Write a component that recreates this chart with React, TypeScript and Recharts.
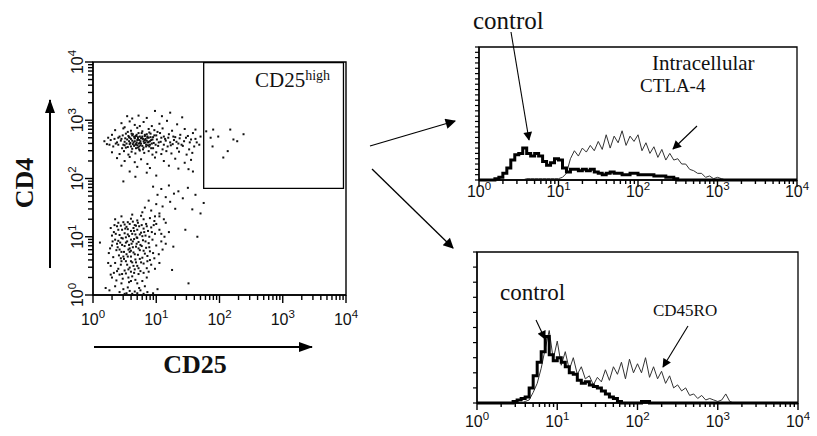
import React from "react";
import {
  Line,
  LineChart,
  ReferenceArea,
  Scatter,
  ScatterChart,
  XAxis,
  YAxis,
} from "recharts";

// log10 positions of decades and of the 2..9 minor ticks inside a decade
const decades = [0, 1, 2, 3, 4];
const minorSteps = [0.301, 0.477, 0.602, 0.699, 0.778, 0.845, 0.903, 0.954];
const logTicks = [
  ...decades,
  ...decades.slice(0, 4).flatMap((d) => minorSteps.map((m) => d + m)),
].sort((a, b) => a - b);

// dot plot: [log10 CD25, log10 CD4]
const cd4HighCells: [number, number][] = [
  [0.54, 3.07], [0.72, 3.08], [0.98, 3.16], [1.09, 3.07], [1.22, 3.13], [1.41, 3.05], [0.62, 3.03], [0.85, 3.04],
  [0.45, 2.95], [0.58, 2.98], [0.66, 2.92], [0.8, 2.97], [0.93, 2.9], [1.05, 2.94], [1.17, 2.99], [1.33, 2.93], [0.5, 2.88], [0.74, 2.9],
  [0.35, 2.83], [0.48, 2.86], [0.6, 2.82], [0.7, 2.87], [0.78, 2.81], [0.88, 2.85], [0.97, 2.83], [1.1, 2.86], [1.25, 2.82], [1.45, 2.85],
  [1.62, 2.84], [1.79, 2.81], [1.9, 2.84], [2.17, 2.84], [0.55, 2.8], [1.02, 2.8],
  [0.3, 2.75], [0.42, 2.72], [0.52, 2.77], [0.57, 2.71], [0.63, 2.76], [0.68, 2.73], [0.72, 2.78], [0.77, 2.7], [0.82, 2.75], [0.86, 2.72],
  [0.91, 2.77], [0.95, 2.71], [1.0, 2.74], [1.06, 2.78], [1.12, 2.72], [1.2, 2.76], [1.3, 2.71], [1.38, 2.75], [1.5, 2.73], [1.58, 2.78],
  [1.7, 2.72], [1.86, 2.7], [1.98, 2.72], [2.38, 2.76], [0.66, 2.7], [0.89, 2.79],
  [0.18, 2.64], [0.28, 2.66], [0.38, 2.62], [0.45, 2.68], [0.5, 2.63], [0.54, 2.67], [0.59, 2.61], [0.62, 2.65], [0.66, 2.69], [0.69, 2.62],
  [0.73, 2.66], [0.76, 2.6], [0.8, 2.64], [0.83, 2.68], [0.87, 2.62], [0.92, 2.66], [0.96, 2.61], [1.01, 2.67], [1.07, 2.63], [1.14, 2.68],
  [1.22, 2.62], [1.28, 2.66], [1.35, 2.6], [1.44, 2.64], [1.55, 2.67], [1.64, 2.62], [2.22, 2.67], [2.28, 2.64], [0.71, 2.68], [0.85, 2.65],
  [0.22, 2.59], [0.32, 2.55], [0.4, 2.58], [0.46, 2.52], [0.5, 2.57], [0.55, 2.54], [0.58, 2.59], [0.62, 2.51], [0.65, 2.56], [0.68, 2.59],
  [0.71, 2.53], [0.75, 2.57], [0.79, 2.5], [0.84, 2.55], [0.9, 2.58], [0.95, 2.52], [1.03, 2.56], [1.1, 2.5], [1.18, 2.55], [1.26, 2.59],
  [1.33, 2.52], [1.42, 2.56], [1.52, 2.5], [1.6, 2.55], [1.89, 2.55], [0.6, 2.55], [0.73, 2.5],
  [0.3, 2.45], [0.42, 2.42], [0.49, 2.47], [0.56, 2.41], [0.61, 2.46], [0.67, 2.43], [0.74, 2.48], [0.81, 2.44], [0.88, 2.47], [0.94, 2.41],
  [1.0, 2.45], [1.08, 2.42], [1.16, 2.47], [1.24, 2.43], [1.36, 2.46], [1.48, 2.41], [1.57, 2.44], [2.13, 2.47],
  [0.38, 2.35], [0.5, 2.3], [0.58, 2.37], [0.66, 2.28], [0.76, 2.33], [0.86, 2.25], [0.98, 2.36], [1.12, 2.3], [1.2, 2.22], [1.3, 2.34],
  [1.45, 2.27], [2.06, 2.36], [0.45, 2.22], [0.7, 2.2], [1.55, 2.32],
  [0.48, 1.95], [0.67, 2.03], [0.85, 2.1], [1.51, 2.16], [1.58, 2.12], [0.58, 2.12], [1.0, 2.05], [1.35, 2.17], [0.9, 2.18],
  // dense core
  [0.47, 2.74], [0.51, 2.69], [0.53, 2.6], [0.56, 2.73], [0.6, 2.68], [0.61, 2.77], [0.64, 2.62], [0.65, 2.72], [0.67, 2.58], [0.69, 2.75],
  [0.7, 2.66], [0.72, 2.6], [0.74, 2.72], [0.75, 2.64], [0.77, 2.78], [0.78, 2.56], [0.79, 2.68], [0.81, 2.61], [0.82, 2.73], [0.84, 2.58],
  [0.86, 2.7], [0.88, 2.63], [0.89, 2.55], [0.91, 2.71], [0.93, 2.6], [0.94, 2.67], [0.97, 2.74], [0.99, 2.58], [0.48, 2.58], [0.52, 2.53],
  [0.57, 2.64], [0.63, 2.59], [0.68, 2.52], [0.71, 2.71], [0.73, 2.55], [0.76, 2.69], [0.8, 2.53], [0.83, 2.62], [0.87, 2.57], [0.9, 2.64],
  [0.58, 2.7], [0.62, 2.74], [0.66, 2.64], [0.7, 2.57], [0.74, 2.61], [0.78, 2.72], [0.82, 2.66], [0.85, 2.76], [0.88, 2.7], [0.92, 2.52],
  [1.04, 2.62], [1.08, 2.7], [1.12, 2.58], [1.15, 2.65], [1.19, 2.7], [1.23, 2.57], [1.27, 2.72], [1.32, 2.63], [1.37, 2.69], [1.4, 2.58],
  [1.47, 2.7], [1.53, 2.62], [1.62, 2.68], [1.68, 2.58], [0.44, 2.65], [0.4, 2.7], [0.36, 2.6], [0.34, 2.68], [0.26, 2.58], [0.24, 2.7],
];

const cd4LowCells: [number, number][] = [
  [0.95, 1.86], [1.08, 1.82], [1.2, 1.88], [1.35, 1.78], [1.5, 1.84], [1.02, 1.72], [1.15, 1.68], [1.28, 1.74], [1.42, 1.66], [1.62, 1.72],
  [1.75, 1.58], [0.88, 1.62], [1.0, 1.56], [1.1, 1.52], [1.22, 1.6], [1.57, 1.47], [1.7, 1.4], [0.82, 1.5], [0.92, 1.45], [1.3, 1.48],
  [0.78, 1.42], [1.05, 1.4],
  [0.35, 1.3], [0.45, 1.35], [0.55, 1.25], [0.62, 1.38], [0.7, 1.28], [0.76, 1.36], [0.84, 1.22], [0.9, 1.32], [0.97, 1.27], [1.05, 1.35],
  [1.15, 1.24], [1.46, 1.12], [0.5, 1.21], [0.66, 1.2], [0.8, 1.3], [0.4, 1.24], [0.6, 1.31],
  [0.28, 1.15], [0.33, 1.08], [0.38, 1.18], [0.42, 1.03], [0.46, 1.12], [0.5, 1.06], [0.53, 1.17], [0.57, 1.01], [0.6, 1.1], [0.64, 1.15],
  [0.67, 1.04], [0.7, 1.12], [0.73, 1.18], [0.76, 1.07], [0.8, 1.14], [0.83, 1.02], [0.87, 1.1], [0.92, 1.16], [0.98, 1.05], [1.05, 1.12],
  [1.13, 1.0], [1.65, 1.0], [0.3, 1.02], [0.55, 1.13], [0.68, 1.19], [0.78, 1.01], [0.44, 1.19], [0.62, 1.05],
  [0.11, 0.9], [0.3, 0.85], [0.35, 0.95], [0.39, 0.82], [0.43, 0.9], [0.47, 0.97], [0.5, 0.84], [0.54, 0.92], [0.58, 0.8], [0.61, 0.88],
  [0.65, 0.96], [0.68, 0.83], [0.72, 0.91], [0.75, 0.86], [0.79, 0.94], [0.84, 0.81], [0.88, 0.89], [0.94, 0.95], [1.0, 0.85], [1.08, 0.92],
  [1.27, 0.83], [0.52, 0.99], [0.63, 0.82], [0.7, 0.98], [0.4, 0.93],
  [0.25, 0.72], [0.32, 0.65], [0.37, 0.77], [0.41, 0.68], [0.45, 0.74], [0.49, 0.62], [0.53, 0.7], [0.56, 0.78], [0.6, 0.66], [0.64, 0.73],
  [0.67, 0.61], [0.71, 0.69], [0.74, 0.77], [0.78, 0.64], [0.82, 0.71], [0.86, 0.67], [0.9, 0.75], [0.97, 0.63], [1.04, 0.7], [0.58, 0.74],
  [0.44, 0.63],
  [0.28, 0.5], [0.35, 0.55], [0.4, 0.45], [0.45, 0.58], [0.5, 0.42], [0.54, 0.52], [0.58, 0.47], [0.62, 0.56], [0.66, 0.44], [0.7, 0.5],
  [0.75, 0.41], [0.8, 0.54], [0.85, 0.46], [0.92, 0.52], [1.25, 0.43], [0.38, 0.41], [0.6, 0.4],
  [0.3, 0.3], [0.37, 0.25], [0.42, 0.35], [0.47, 0.28], [0.52, 0.37], [0.57, 0.22], [0.62, 0.32], [0.67, 0.26], [0.72, 0.36], [0.78, 0.24],
  [0.85, 0.3], [1.51, 0.2], [0.33, 0.38], [0.65, 0.38],
  [0.2, 0.12], [0.26, 0.08], [0.35, 0.15], [0.42, 0.05], [0.48, 0.1], [0.53, 0.03], [0.58, 0.07], [0.62, 0.02], [0.66, 0.06], [0.7, 0.03],
  [0.75, 0.08], [0.8, 0.02], [0.86, 0.05], [0.95, 0.03], [1.02, 0.1], [0.55, 0.13], [0.5, 0.02], [0.73, 0.12],
  // dense core
  [0.36, 1.05], [0.4, 1.12], [0.45, 0.98], [0.48, 1.25], [0.51, 1.14], [0.55, 1.04], [0.58, 1.22], [0.6, 0.95], [0.63, 1.26], [0.65, 1.1],
  [0.69, 0.99], [0.71, 1.24], [0.74, 1.04], [0.77, 1.2], [0.81, 1.08], [0.85, 1.18], [0.89, 1.0], [0.93, 1.08], [0.96, 1.2], [0.38, 0.88],
  [0.42, 0.78], [0.46, 0.86], [0.49, 0.74], [0.52, 0.9], [0.55, 0.66], [0.57, 0.86], [0.6, 0.76], [0.63, 0.92], [0.66, 0.7], [0.69, 0.88],
  [0.72, 0.8], [0.74, 0.62], [0.77, 0.84], [0.8, 0.76], [0.83, 0.92], [0.86, 0.58], [0.89, 0.82], [0.44, 0.52], [0.48, 0.66], [0.52, 0.58],
  [0.56, 0.44], [0.6, 0.58], [0.64, 0.5], [0.68, 0.56], [0.72, 0.46], [0.76, 0.56], [0.8, 0.38], [0.88, 0.4], [0.46, 0.36], [0.56, 0.3],
  [0.6, 0.24], [0.7, 0.2], [0.82, 0.15], [0.45, 0.2], [0.98, 0.45], [1.05, 0.55], [1.1, 0.78], [1.15, 0.88], [1.2, 1.08], [1.12, 1.3],
  [0.34, 1.2], [0.31, 0.92], [0.27, 0.8], [0.24, 0.55], [0.28, 0.35], [1.0, 1.22], [1.08, 1.05], [0.95, 0.72], [0.9, 0.6], [0.98, 1.35],
];

// CD25high gate, in log10 units
const gateX = [1.75, 3.96];
const gateY = [1.83, 3.99];

// histogram channels (log10 fluorescence)
const bins = [
  0, 0.05, 0.1, 0.15, 0.2, 0.25, 0.3, 0.35, 0.4, 0.45, 0.5, 0.55, 0.6, 0.65, 0.7, 0.75, 0.8, 0.85, 0.9, 0.95,
  1, 1.05, 1.1, 1.15, 1.2, 1.25, 1.3, 1.35, 1.4, 1.45, 1.5, 1.55, 1.6, 1.65, 1.7, 1.75, 1.8, 1.85, 1.9, 1.95,
  2, 2.05, 2.1, 2.15, 2.2, 2.25, 2.3, 2.35, 2.4, 2.45, 2.5, 2.55, 2.6, 2.65, 2.7, 2.75, 2.8, 2.85, 2.9, 2.95,
  3, 3.05, 3.1, 3.15, 3.2, 3.25, 3.3, 3.35, 3.4, 3.45, 3.5, 3.55, 3.6, 3.65, 3.7, 3.75, 3.8, 3.85, 3.9, 3.95, 4,
];

const ctlaControl = [
  0, 0, 0, 0, 1, 2, 5, 9, 15, 19, 20, 24, 20, 18, 20, 18, 14, 11, 13, 16,
  15, 9, 6, 8, 8, 7, 8, 7, 8, 6, 5, 4, 5, 6, 5, 5, 4, 4, 5, 5,
  4, 4, 4, 4, 3, 3, 3, 2, 2, 1, 0, 0, 0, 0, 0, 0, 0, 0, 0, 0,
  0, 0, 0, 0, 0, 0, 0, 0, 0, 0, 0, 0, 0, 0, 0, 0, 0, 0, 0, 0, 0,
];
const ctla4 = [
  0, 0, 0, 0, 0, 0, 0, 0, 0, 0, 0, 0, 1, 1, 1, 1, 1, 1, 1, 1,
  1, 2, 5, 16, 22, 18, 24, 21, 26, 22, 29, 23, 34, 24, 33, 28, 37, 26, 33, 29,
  34, 22, 28, 20, 25, 17, 23, 15, 20, 15, 16, 12, 12, 8, 7, 5, 5, 2, 3, 1,
  2, 1, 0, 0, 0, 0, 0, 0, 0, 0, 0, 0, 0, 0, 0, 0, 0, 0, 0, 0, 0,
];
const roControl = [
  0, 0, 0, 0, 0, 0, 0, 0, 0, 1, 2, 3, 4, 10, 18, 27, 34, 44, 32, 28,
  30, 27, 24, 20, 19, 15, 13, 14, 12, 11, 10, 8, 6, 4, 3, 1, 0, 0, 0, 0,
  0, 1, 1, 0, 0, 0, 0, 0, 0, 0, 0, 0, 0, 0, 0, 0, 0, 0, 0, 0,
  0, 0, 0, 0, 0, 0, 0, 0, 0, 0, 0, 0, 0, 0, 0, 0, 0, 0, 0, 0, 0,
];
const cd45ro = [
  0, 0, 0, 0, 0, 0, 0, 0, 0, 0, 0, 0, 1, 2, 7, 13, 23, 36, 48, 29,
  41, 25, 34, 22, 30, 19, 24, 16, 18, 12, 17, 14, 22, 15, 24, 19, 27, 16, 29, 20,
  26, 20, 30, 17, 24, 16, 21, 13, 18, 10, 12, 8, 10, 5, 6, 3, 5, 2, 3, 2,
  1, 2, 6, 1, 0, 0, 0, 0, 0, 0, 0, 0, 0, 0, 0, 0, 0, 0, 0, 0, 0,
];

const topTicksY = [0, 4, 8, 12, 16, 20, 24, 28, 32, 36, 40, 44, 48, 52, 56, 60, 64, 68, 72, 76, 80, 84, 88, 92, 96, 100];
const bottomTicksY = [0, 10, 20, 30, 40, 50, 60, 70, 80, 90, 100];

const toPoints = (rows: [number, number][]) => rows.map(([x, y]) => ({ x, y }));
const ctlaRows = bins.map((b, i) => ({ x: b, control: ctlaControl[i], ctla: ctla4[i] }));
const roRows = bins.map((b, i) => ({ x: b, control: roControl[i], ro: cd45ro[i] }));

const isMajor = (v: number) => Math.abs(v - Math.round(v)) < 1e-6;
const SANS = "'Liberation Sans', Arial, sans-serif";
const SERIF = "'Liberation Serif', 'Times New Roman', serif";
const AXIS_LINE = { stroke: "#000", strokeWidth: 1.3 };
const TICK_LINE = { stroke: "#000", strokeWidth: 1.4 };

// recharts draws the short tick line; decades get a longer tick and a "10^n" label
function LogXLabel(props: any) {
  const { x, y, payload, fontSize = 16, gap = 22 } = props;
  const v = payload.value;
  if (!isMajor(v)) return <g />;
  return (
    <g>
      <line x1={x} y1={y} x2={x} y2={y + 3} stroke="#000" strokeWidth={1.4} />
      <text x={x} y={y + gap} textAnchor="middle" fontFamily={SANS} fontSize={fontSize} fill="#111">
        10
        <tspan dy={-fontSize * 0.45} fontSize={fontSize * 0.72}>
          {Math.round(v)}
        </tspan>
      </text>
    </g>
  );
}

function LogYLabel(props: any) {
  const { x, y, payload } = props;
  const v = payload.value;
  if (!isMajor(v)) return <g />;
  return (
    <g>
      <line x1={x} y1={y} x2={x - 3} y2={y} stroke="#000" strokeWidth={1.4} />
      <text
        transform={`translate(${x - 5},${y}) rotate(-90)`}
        textAnchor="middle"
        fontFamily={SANS}
        fontSize={16}
        fill="#111"
      >
        10
        <tspan dy={-7} fontSize={11.5}>
          {Math.round(v)}
        </tspan>
      </text>
    </g>
  );
}

const NoLabel = () => <g />;

function Dot(props: any) {
  const { cx, cy } = props;
  return <rect x={cx - 1} y={cy - 1} width={2} height={2} fill="#111" />;
}

function DotPlot() {
  return (
    <ScatterChart width={360} height={336} margin={{ top: 62, right: 14, bottom: 11, left: 0 }}>
      <XAxis
        type="number"
        dataKey="x"
        domain={[0, 4]}
        ticks={logTicks}
        interval={0}
        height={30}
        tickSize={5}
        tickMargin={0}
        axisLine={AXIS_LINE}
        tickLine={TICK_LINE}
        tick={<LogXLabel gap={25} fontSize={16} />}
      />
      <YAxis
        type="number"
        dataKey="y"
        domain={[0, 4]}
        ticks={logTicks}
        interval={0}
        width={93}
        tickSize={5}
        tickMargin={0}
        axisLine={AXIS_LINE}
        tickLine={TICK_LINE}
        tick={<LogYLabel />}
      />
      <ReferenceArea x1={0} x2={4} y1={0} y2={4} fill="none" stroke="#000" strokeWidth={1.4} ifOverflow="visible" />
      <ReferenceArea
        x1={gateX[0]}
        x2={gateX[1]}
        y1={gateY[0]}
        y2={gateY[1]}
        fill="none"
        stroke="#000"
        strokeWidth={1.3}
        ifOverflow="visible"
      />
      <Scatter data={toPoints(cd4HighCells)} shape={<Dot />} isAnimationActive={false} />
      <Scatter data={toPoints(cd4LowCells)} shape={<Dot />} isAnimationActive={false} />
    </ScatterChart>
  );
}

type HistProps = {
  rows: { x: number; control: number; [k: string]: number }[];
  stainKey: string;
  width: number;
  height: number;
  margin: { top: number; right: number; bottom: number; left: number };
  yWidth: number;
  xHeight: number;
  yTicks: number[];
  labelGap: number;
  labelSize: number;
};

function Histogram({ rows, stainKey, width, height, margin, yWidth, xHeight, yTicks, labelGap, labelSize }: HistProps) {
  return (
    <LineChart width={width} height={height} data={rows} margin={margin}>
      <XAxis
        type="number"
        dataKey="x"
        domain={[0, 4]}
        ticks={logTicks}
        interval={0}
        height={xHeight}
        tickSize={4}
        tickMargin={0}
        axisLine={AXIS_LINE}
        tickLine={TICK_LINE}
        tick={<LogXLabel gap={labelGap} fontSize={labelSize} />}
      />
      <YAxis
        type="number"
        domain={[0, 100]}
        ticks={yTicks}
        interval={0}
        width={yWidth}
        tickSize={4}
        tickMargin={0}
        axisLine={AXIS_LINE}
        tickLine={{ stroke: "#000", strokeWidth: 1.2 }}
        tick={<NoLabel />}
      />
      <ReferenceArea x1={0} x2={4} y1={0} y2={100} fill="none" stroke="#000" strokeWidth={1.3} ifOverflow="visible" />
      <Line
        type="linear"
        dataKey={stainKey}
        stroke="#333"
        strokeWidth={1}
        dot={false}
        isAnimationActive={false}
      />
      <Line
        type="stepAfter"
        dataKey="control"
        stroke="#000"
        strokeWidth={3}
        dot={false}
        isAnimationActive={false}
      />
    </LineChart>
  );
}

export default function App() {
  return (
    <div
      style={{
        position: "absolute",
        left: 0,
        top: 0,
        width: 817,
        height: 436,
        background: "#fff",
        overflow: "hidden",
      }}
    >
      <div style={{ position: "absolute", left: 0, top: 0 }}>
        <DotPlot />
      </div>
      <div style={{ position: "absolute", left: 440, top: 0 }}>
        <Histogram
          rows={ctlaRows}
          stainKey="ctla"
          width={370}
          height={210}
          margin={{ top: 47, right: 13, bottom: 0, left: 0 }}
          yWidth={39}
          xHeight={30}
          yTicks={topTicksY}
          labelGap={13}
          labelSize={16}
        />
      </div>
      <div style={{ position: "absolute", left: 440, top: 220 }}>
        <Histogram
          rows={roRows}
          stainKey="ro"
          width={370}
          height={216}
          margin={{ top: 32, right: 12, bottom: 0, left: 0 }}
          yWidth={37}
          xHeight={33}
          yTicks={bottomTicksY}
          labelGap={20}
          labelSize={16}
        />
      </div>
      <svg
        width={817}
        height={436}
        style={{ position: "absolute", left: 0, top: 0, pointerEvents: "none" }}
      >
        <defs>
          <marker id="head" viewBox="0 0 10 10" refX="9" refY="5" markerWidth="10" markerHeight="8" orient="auto">
            <path d="M0,0 L10,5 L0,10 z" fill="#000" />
          </marker>
          <marker id="bighead" viewBox="0 0 14 10" refX="13" refY="5" markerWidth="7" markerHeight="5" orient="auto">
            <path d="M0,0 L14,5 L0,10 z" fill="#000" />
          </marker>
        </defs>
        {/* axis arrows of the dot plot */}
        <line x1={50} y1={268} x2={50} y2={100} stroke="#000" strokeWidth={2} markerEnd="url(#bighead)" />
        <line x1={94} y1={347} x2={312} y2={347} stroke="#000" strokeWidth={2} markerEnd="url(#bighead)" />
        <text
          transform="translate(33,183) rotate(-90)"
          textAnchor="middle"
          fontFamily={SERIF}
          fontWeight="bold"
          fontSize={26}
          fill="#111"
        >
          CD4
        </text>
        <text x={195} y={373} textAnchor="middle" fontFamily={SERIF} fontWeight="bold" fontSize={26} fill="#111">
          CD25
        </text>
        <text x={255} y={87} fontFamily={SERIF} fontSize={21} fill="#111">
          CD25
          <tspan dy={-7} fontSize={14}>
            high
          </tspan>
        </text>

        {/* arrows to the histograms */}
        <line x1={370} y1={146} x2={455} y2={121} stroke="#000" strokeWidth={1.3} markerEnd="url(#head)" />
        <line x1={372} y1={169} x2={453} y2={248} stroke="#000" strokeWidth={1.3} markerEnd="url(#head)" />

        {/* CTLA-4 panel annotations */}
        <text x={473} y={29} fontFamily={SERIF} fontSize={25} fill="#111">
          control
        </text>
        <line x1={511} y1={32} x2={529} y2={140} stroke="#000" strokeWidth={1.1} markerEnd="url(#head)" />
        <text x={652} y={70} fontFamily={SERIF} fontSize={21} fill="#111">
          Intracellular
        </text>
        <text x={640} y={92} fontFamily={SERIF} fontSize={19} fill="#111">
          CTLA-4
        </text>
        <line x1={697} y1={126} x2={673} y2={149} stroke="#000" strokeWidth={1.1} markerEnd="url(#head)" />

        {/* CD45RO panel annotations */}
        <text x={500} y={300} fontFamily={SERIF} fontSize={23} fill="#111">
          control
        </text>
        <line x1={536} y1={320} x2={545} y2={339} stroke="#000" strokeWidth={1.1} markerEnd="url(#head)" />
        <text x={653} y={316} fontFamily={SERIF} fontSize={17} fill="#111">
          CD45RO
        </text>
        <line x1={688} y1={326} x2={663} y2={367} stroke="#000" strokeWidth={1.1} markerEnd="url(#head)" />
      </svg>
    </div>
  );
}
